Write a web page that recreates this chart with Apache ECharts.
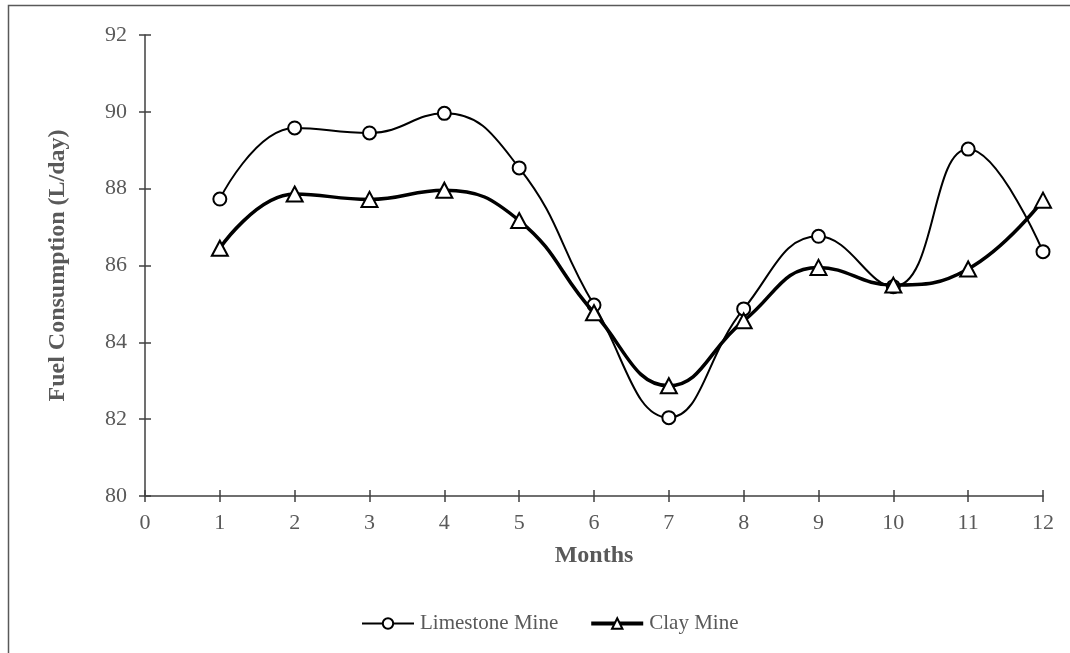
<!DOCTYPE html>
<html>
<head>
<meta charset="utf-8">
<script src="https://cdn.jsdelivr.net/npm/echarts@6/dist/echarts.min.js"></script>
<style>
  html, body { margin: 0; padding: 0; background: #fff; }
  #chart { width: 1070px; height: 653px; }
</style>
</head>
<body>
<div id="chart"></div>
<script>
// Monthly fuel consumption of the two mines (L/day)
const months = [1, 2, 3, 4, 5, 6, 7, 8, 9, 10, 11, 12];
const limestone = [87.73, 89.58, 89.45, 89.96, 88.54, 84.97, 82.04, 84.87, 86.76, 85.45, 89.03, 86.36];
const clay = [86.45, 87.86, 87.72, 87.96, 87.17, 84.77, 82.87, 84.56, 85.95, 85.49, 85.91, 87.70];
const seriesNames = ['Limestone Mine', 'Clay Mine'];
const xTitle = 'Months';
const yTitle = 'Fuel Consumption (L/day)';

const FONT = '"Liberation Serif", "Times New Roman", serif';
const GREY = '#595959';
const AXIS = '#404040';

const pairs = arr => months.map((m, i) => [m, arr[i]]);

const baseX = {
  type: 'value', min: 0, max: 12, interval: 1,
  splitLine: { show: false }
};
const baseY = {
  type: 'value', min: 80, max: 92, interval: 2,
  splitLine: { show: false }
};

const chart = echarts.init(document.getElementById('chart'), null, { renderer: 'canvas' });
chart.setOption({
  backgroundColor: '#fff',
  animation: false,
  textStyle: { fontFamily: FONT },
  graphic: [{
    type: 'rect',
    shape: { x: 8.5, y: 5.5, width: 1100, height: 700 },
    style: { fill: 'none', stroke: GREY, lineWidth: 1.5 },
    silent: true, z: -1
  }],
  grid: { left: 145, right: 27, top: 35, bottom: 157, containLabel: false },
  xAxis: [
    Object.assign({}, baseX, {
      name: xTitle, nameLocation: 'middle', nameGap: 48,
      nameTextStyle: { color: GREY, fontFamily: FONT, fontSize: 24, fontWeight: 'bold' },
      axisLine: { show: true, onZero: false, lineStyle: { color: AXIS, width: 1.5 } },
      axisTick: { show: true, inside: false, length: 6, lineStyle: { color: AXIS, width: 1.5 } },
      axisLabel: { color: GREY, fontFamily: FONT, fontSize: 22, margin: 16 }
    }),
    Object.assign({}, baseX, {
      position: 'bottom',
      axisLine: { show: false, onZero: false },
      axisTick: { show: true, inside: true, length: 6, lineStyle: { color: AXIS, width: 1.5 } },
      axisLabel: { show: false }
    })
  ],
  yAxis: [
    Object.assign({}, baseY, {
      name: yTitle, nameLocation: 'middle', nameGap: 75, nameRotate: 90,
      nameTextStyle: { color: GREY, fontFamily: FONT, fontSize: 24, fontWeight: 'bold' },
      axisLine: { show: true, onZero: false, lineStyle: { color: AXIS, width: 1.5 } },
      axisTick: { show: true, inside: false, length: 6, lineStyle: { color: AXIS, width: 1.5 } },
      axisLabel: { color: GREY, fontFamily: FONT, fontSize: 22, margin: 18 }
    }),
    Object.assign({}, baseY, {
      position: 'left',
      axisLine: { show: false, onZero: false },
      axisTick: { show: true, inside: true, length: 6, lineStyle: { color: AXIS, width: 1.5 } },
      axisLabel: { show: false }
    })
  ],
  legend: {
    left: 356, top: 608,
    itemWidth: 52, itemHeight: 13, itemGap: 31,
    textStyle: { color: GREY, fontFamily: FONT, fontSize: 21, padding: [0, 0, 0, 1] },
    data: [
      { name: seriesNames[0], lineStyle: { width: 2 }, itemStyle: { borderWidth: 2 } },
      { name: seriesNames[1], lineStyle: { width: 4 }, itemStyle: { borderWidth: 2 } }
    ]
  },
  series: [
    {
      name: seriesNames[0], type: 'line', xAxisIndex: 0, yAxisIndex: 0,
      data: pairs(limestone), smooth: 0.45,
      symbol: 'circle', symbolSize: 13,
      lineStyle: { color: '#000', width: 2 },
      itemStyle: { color: '#fff', borderColor: '#000', borderWidth: 2 },
      z: 3
    },
    {
      name: seriesNames[1], type: 'line', xAxisIndex: 0, yAxisIndex: 0,
      data: pairs(clay), smooth: 0.45,
      symbol: 'triangle', symbolSize: [16, 15],
      lineStyle: { color: '#000', width: 3.5 },
      itemStyle: { color: '#fff', borderColor: '#000', borderWidth: 2 },
      z: 4
    }
  ]
});
</script>
</body>
</html>
